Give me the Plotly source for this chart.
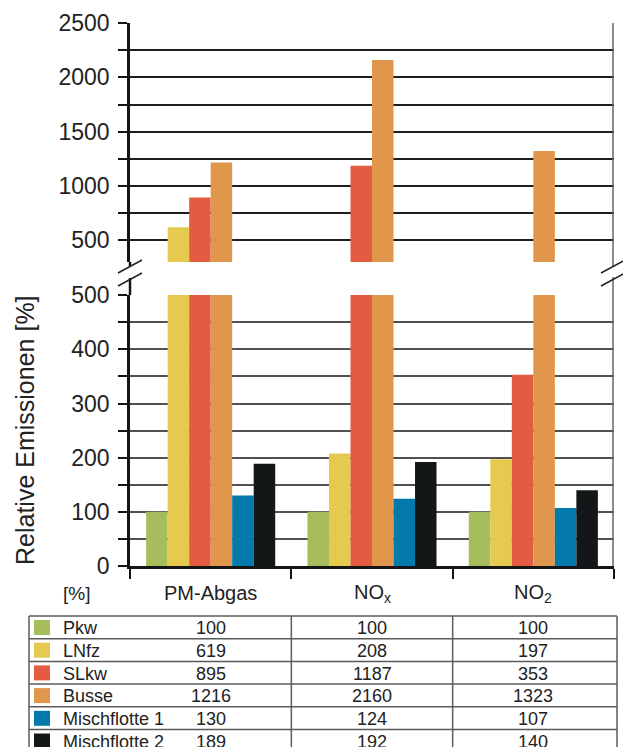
import plotly.graph_objects as go

W, H = 623, 747

# --- data -------------------------------------------------------------
categories = ["PM-Abgas", "NOx", "NO2"]
category_labels = ["PM-Abgas", "NO<sub>x</sub>", "NO<sub>2</sub>"]

series_names = ["Pkw", "LNfz", "SLkw", "Busse", "Mischflotte 1", "Mischflotte 2"]
pkw = [100, 100, 100]
lnfz = [619, 208, 197]
slkw = [895, 1187, 353]
busse = [1216, 2160, 1323]
mischflotte1 = [130, 124, 107]
mischflotte2 = [189, 192, 140]
series_values = [pkw, lnfz, slkw, busse, mischflotte1, mischflotte2]
series_colors = ["#a6bd5c", "#e6ca50", "#e35c42", "#e0974b", "#037aab", "#131718"]

lower_range = [0, 500]
upper_range = [300, 2500]
lower_ticks = [0, 100, 200, 300, 400, 500]
lower_minor_step = 50
upper_ticks = [500, 1000, 1500, 2000, 2500]
upper_minor_step = 250

FONT = "Liberation Sans, Arial, sans-serif"
TXT = "#222222"


def px(x):
    return x / W


def py(y):
    return 1 - y / H


# plot-area geometry (pixels)
X0, X1 = 130, 614
UP_TOP, UP_BOT = 23, 262
LO_TOP, LO_BOT = 295, 566

fig = go.Figure()

# lower panel: all bars, clipped at the top of the lower range
for name, vals, col in zip(series_names, series_values, series_colors):
    fig.add_trace(go.Bar(x=categories, y=vals, name=name, marker_color=col,
                         marker_line_width=0, xaxis="x", yaxis="y",
                         showlegend=False, hoverinfo="name+y"))

# upper panel: only the bars that exceed the lower range
for name, vals, col in zip(series_names, series_values, series_colors):
    up = [v if v > lower_range[1] else None for v in vals]
    fig.add_trace(go.Bar(x=categories, y=up, name=name, marker_color=col,
                         marker_line_width=0, xaxis="x2", yaxis="y2",
                         showlegend=False, hoverinfo="name+y"))


def value_axis(domain, anchor, rng, ticks, minor_step, grid_color):
    return dict(domain=domain, anchor=anchor, automargin=False, range=rng,
                tickmode="array", tickvals=ticks, ticktext=[str(t) for t in ticks],
                ticks="outside", ticklen=9, tickwidth=2, tickcolor="#151515",
                ticklabelstandoff=4,
                tickfont=dict(size=23, color=TXT, family=FONT),
                showgrid=True, gridcolor=grid_color, gridwidth=1.5,
                minor=dict(tick0=0, dtick=minor_step, ticks="outside", ticklen=9,
                           tickwidth=2, tickcolor="#151515", showgrid=True,
                           gridcolor=grid_color, gridwidth=1.5),
                showline=True, linecolor="#151515", linewidth=2.5,
                zeroline=False)


xdom = [px(X0), px(X1)]
fig.update_layout(
    width=W, height=H,
    margin=dict(l=0, r=0, t=0, b=0, pad=0, autoexpand=False),
    paper_bgcolor="white", plot_bgcolor="white",
    showlegend=False,
    barmode="group", bargap=0.2, bargroupgap=0,
    font=dict(family=FONT, color=TXT),
    xaxis=dict(domain=xdom, anchor="y", range=[-0.5, 2.5], type="category",
               automargin=False,
               showline=True, linecolor="#151515", linewidth=2.5,
               ticks="outside", tickson="boundaries", ticklen=10,
               tickwidth=2, tickcolor="#151515", showticklabels=False,
               showgrid=False, zeroline=False),
    xaxis2=dict(domain=xdom, anchor="y2", range=[-0.5, 2.5], type="category",
                automargin=False,
                showline=False, ticks="", showticklabels=False,
                showgrid=False, zeroline=False),
    yaxis=value_axis([py(LO_BOT), py(LO_TOP)], "x",
                     [lower_range[0], lower_range[1] + 0.5],
                     lower_ticks, lower_minor_step, "#505050"),
    yaxis2=value_axis([py(UP_BOT), py(UP_TOP)], "x2",
                      [upper_range[0], upper_range[1] + 1],
                      upper_ticks, upper_minor_step, "#1e1e1e"),
)

shapes = []
# axis line extensions towards the break
shapes.append(dict(type="line", xref="paper", yref="paper", x0=px(X0), x1=px(X0),
                   y0=py(UP_BOT), y1=py(266), line=dict(color="#151515", width=2.5)))
shapes.append(dict(type="line", xref="paper", yref="paper", x0=px(X0), x1=px(X0),
                   y0=py(278), y1=py(LO_TOP), line=dict(color="#151515", width=2.5)))
# right frame lines
shapes.append(dict(type="line", xref="paper", yref="paper", x0=px(613), x1=px(613),
                   y0=py(UP_TOP), y1=py(267), line=dict(color="#666666", width=1.5)))
shapes.append(dict(type="line", xref="paper", yref="paper", x0=px(613), x1=px(613),
                   y0=py(277), y1=py(LO_BOT), line=dict(color="#666666", width=1.5)))
# break marks
for (xa, xb) in [(118, 142), (601, 625)]:
    for yo in (0, 13):
        shapes.append(dict(type="line", xref="paper", yref="paper",
                           x0=px(xa), y0=py(273 + yo), x1=px(xb), y1=py(260 + yo),
                           line=dict(color="#222222", width=1.5)))

# table below the chart
T_LEFT, T_RIGHT, T_TOP, ROW_H = 29, 617, 616, 22.7
n_rows = len(series_names)
t_bottom = T_TOP + n_rows * ROW_H
grid_col = "#5a5a5a"
for i in range(n_rows + 1):
    yy = T_TOP + i * ROW_H
    shapes.append(dict(type="line", xref="paper", yref="paper",
                       x0=px(T_LEFT), x1=px(T_RIGHT), y0=py(yy), y1=py(yy),
                       line=dict(color=grid_col, width=1.5)))
for xx in (T_LEFT, T_RIGHT):
    shapes.append(dict(type="line", xref="paper", yref="paper",
                       x0=px(xx), x1=px(xx), y0=py(T_TOP), y1=py(t_bottom),
                       line=dict(color=grid_col, width=1.5)))
for b in (0.5, 1.5):
    shapes.append(dict(type="line", xref="x", yref="paper",
                       x0=b, x1=b, y0=py(T_TOP), y1=py(t_bottom),
                       line=dict(color=grid_col, width=1.5)))

annotations = []
for i, (name, vals, col) in enumerate(zip(series_names, series_values, series_colors)):
    top = T_TOP + i * ROW_H
    mid = top + ROW_H / 2
    shapes.append(dict(type="rect", xref="paper", yref="paper",
                       x0=px(34), x1=px(50), y0=py(top + 4), y1=py(top + 19),
                       fillcolor=col, line=dict(width=0)))
    annotations.append(dict(text=name, xref="paper", yref="paper", x=px(61), y=py(mid + 1),
                            xanchor="left", yanchor="middle", showarrow=False,
                            font=dict(size=18, color=TXT, family=FONT)))
    for cat, v in zip(categories, vals):
        annotations.append(dict(text=str(v), xref="x", yref="paper", x=cat, y=py(mid + 1),
                                xanchor="center", yanchor="middle", showarrow=False,
                                font=dict(size=18, color=TXT, family=FONT)))

# column headers / category labels
annotations.append(dict(text="[%]", xref="paper", yref="paper", x=px(61), y=py(593),
                        xanchor="left", yanchor="middle", showarrow=False,
                        font=dict(size=19, color=TXT, family=FONT)))
for cat, lab in zip(categories, category_labels):
    annotations.append(dict(text=lab, xref="x", yref="paper", x=cat, y=py(593),
                            xanchor="center", yanchor="middle", showarrow=False,
                            font=dict(size=20, color=TXT, family=FONT)))

# y-axis title
annotations.append(dict(text="Relative Emissionen [%]", xref="paper", yref="paper",
                        x=px(25), y=py(430), textangle=-90, xanchor="center",
                        yanchor="middle", showarrow=False,
                        font=dict(size=25, color=TXT, family=FONT)))

fig.update_layout(shapes=shapes, annotations=annotations)
fig.write_html("out.html")
